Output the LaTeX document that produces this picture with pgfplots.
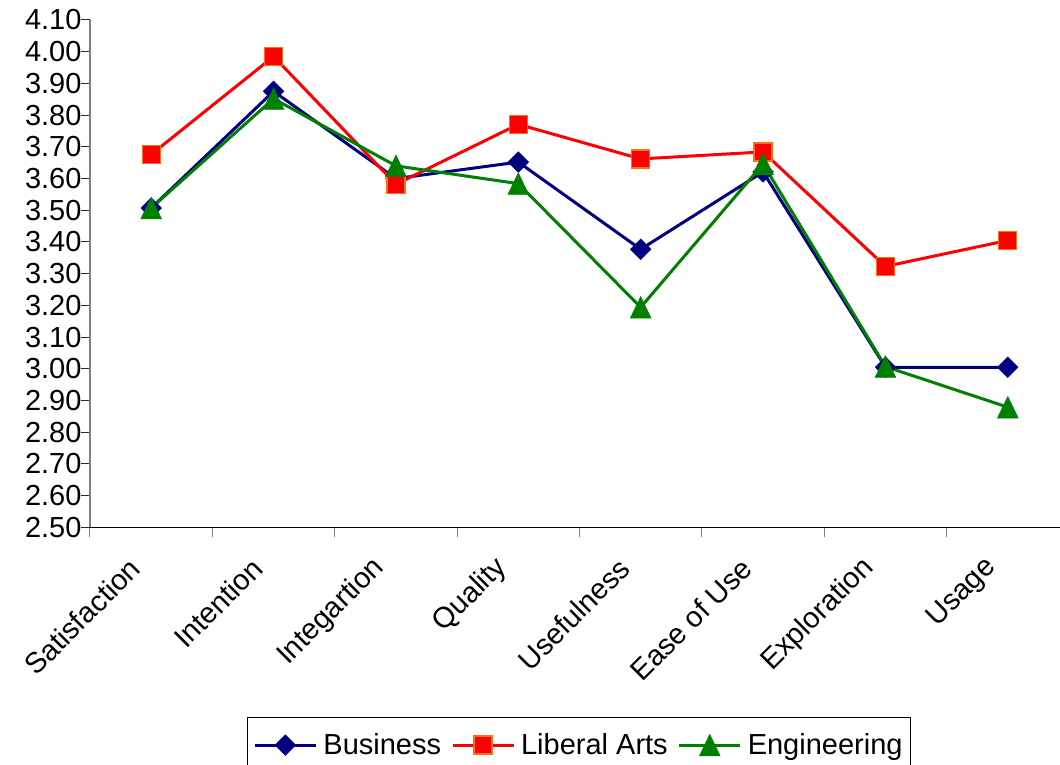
\documentclass[border=0pt]{standalone}
\usepackage{fontspec}
\setmainfont{Liberation Sans}
\usepackage{pgfplots}
\pgfplotsset{compat=1.18}

\definecolor{bizblue}{RGB}{0,0,128}
\definecolor{artsred}{RGB}{255,0,0}
\definecolor{artsedge}{RGB}{255,110,20}
\definecolor{enggreen}{RGB}{0,128,0}
\definecolor{axisgray}{RGB}{128,128,128}

\newcommand{\chartfont}{\fontsize{29}{34}\selectfont}

\begin{document}
\begin{tikzpicture}
\begin{axis}[
  at={(0pt,0pt)}, anchor=south west,
  scale only axis,
  width=979pt, height=507.4pt,
  xmin=-0.5, xmax=7.5,
  ymin=2.5, ymax=4.1,
  axis x line=bottom, axis y line=left,
  x axis line style={-, black, line width=1pt},
  y axis line style={-, axisgray, line width=1.2pt},
  xtick={0,1,2,3,4,5,6,7},
  xticklabels={Satisfaction,Intention,Integartion,Quality,Usefulness,Ease of Use,Exploration,Usage},
  major x tick style={draw=none},
  minor xtick={-0.5,0.5,1.5,2.5,3.5,4.5,5.5,6.5},
  minor x tick style={axisgray, line width=1pt},
  minor tick length=10pt,
  ytick={2.5,2.6,2.7,2.8,2.9,3.0,3.1,3.2,3.3,3.4,3.5,3.6,3.7,3.8,3.9,4.0,4.1},
  major y tick style={black!85, line width=1pt},
  major tick length=9pt,
  tick align=outside,
  /pgf/number format/assume math mode=true,
  y tick label style={/pgf/number format/.cd, fixed, fixed zerofill, precision=2, /tikz/.cd},
  tick label style={font=\chartfont},
  yticklabel style={xshift=4pt},
  xticklabel style={xshift=-16pt, yshift=-27pt, rotate=45, anchor=east, inner sep=0pt},
  legend style={
    font=\chartfont,
    at={(0.4995,-0.3745)}, anchor=north,
    legend columns=-1,
    draw=black, line width=0.9pt,
    inner xsep=6pt, inner ysep=14pt,
    /tikz/every odd column/.append style={column sep=4pt},
    /tikz/every even column/.append style={column sep=8pt},
  },
  legend cell align=left,
  legend image code/.code={%
    \draw[mark repeat=2, mark phase=2, #1] plot coordinates {(0pt,0pt) (30.5pt,0pt) (61pt,0pt)};},
]

% Business
\addplot[bizblue, line width=3pt, mark=square*, mark size=7.3pt,
  mark options={solid, rotate=45, fill=bizblue, draw=bizblue, line width=0.5pt}]
  coordinates {(0,3.507) (1,3.875) (2,3.60) (3,3.652) (4,3.377) (5,3.621) (6,3.005) (7,3.005)};
\addlegendentry{Business}

% Liberal Arts
\addplot[artsred, line width=3pt, mark=square*, mark size=9pt,
  mark options={solid, fill=artsred, draw=artsedge, line width=1.3pt}]
  coordinates {(0,3.676) (1,3.985) (2,3.582) (3,3.771) (4,3.662) (5,3.684) (6,3.323) (7,3.405)};
\addlegendentry{Liberal Arts}

% Engineering
\addplot[enggreen, line width=3pt, mark=triangle*, mark size=12pt,
  mark options={solid, yshift=-3.6pt, yscale=1.2, fill=enggreen, draw=enggreen, line width=0.5pt}]
  coordinates {(0,3.507) (1,3.852) (2,3.640) (3,3.584) (4,3.194) (5,3.646) (6,3.007) (7,2.879)};
\addlegendentry{Engineering}

\end{axis}
\pgfresetboundingbox
\useasboundingbox (-90pt,-237.6pt) rectangle (970pt,527.4pt);
\end{tikzpicture}
\end{document}
